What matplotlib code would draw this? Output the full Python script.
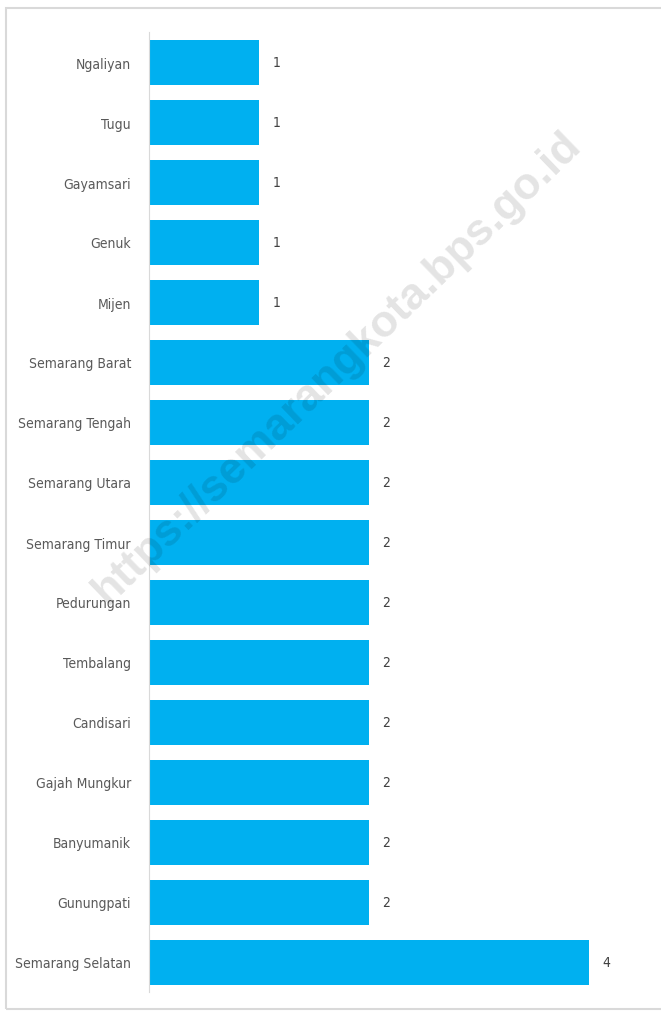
import matplotlib.pyplot as plt
from matplotlib.patches import Rectangle

districts = ["Ngaliyan", "Tugu", "Gayamsari", "Genuk", "Mijen",
             "Semarang Barat", "Semarang Tengah", "Semarang Utara",
             "Semarang Timur", "Pedurungan", "Tembalang", "Candisari",
             "Gajah Mungkur", "Banyumanik", "Gunungpati", "Semarang Selatan"]
counts = [1, 1, 1, 1, 1, 2, 2, 2, 2, 2, 2, 2, 2, 2, 2, 4]

plt.rcParams['font.family'] = ['DejaVu Sans']

fig = plt.figure(figsize=(6.61, 10.12), dpi=100)
ax = fig.add_axes([149/661, 1 - 993/1012, 484/661, 960/1012])

# outer frame of the chart
fig.patches.append(Rectangle((6/661, 2/1012), 660/661, 1001/1012,
                             transform=fig.transFigure, fill=False,
                             edgecolor="#d9d9d9", linewidth=1.5))

ypos = list(range(len(districts)))
ax.barh(ypos, counts, height=0.75, color="#00B0F0")
for y, v in zip(ypos, counts):
    ax.text(v + 0.12, y, str(v), va="center", ha="left", fontsize=10,
            color="#404040", fontstretch="condensed")

ax.set_yticks(ypos)
ax.set_yticklabels(districts, fontsize=10, color="#595959", fontstretch="condensed")
ax.set_ylim(len(districts) - 0.5, -0.5)
ax.set_xlim(0, 4.4)
ax.set_xticks([])
ax.tick_params(axis="y", length=0, pad=13)
for s in ["top", "right", "bottom"]:
    ax.spines[s].set_visible(False)
ax.spines["left"].set_color("#d9d9d9")

# semi-transparent watermark over the chart
fig.text(337/661, 1 - 368/1012, "https://semarangkota.bps.go.id",
         rotation=44, ha="center", va="center", fontsize=32,
         fontweight="bold", color="black", alpha=0.11,
         family=["Liberation Sans", "DejaVu Sans"], zorder=10)

fig.savefig("out.png", dpi=100)
